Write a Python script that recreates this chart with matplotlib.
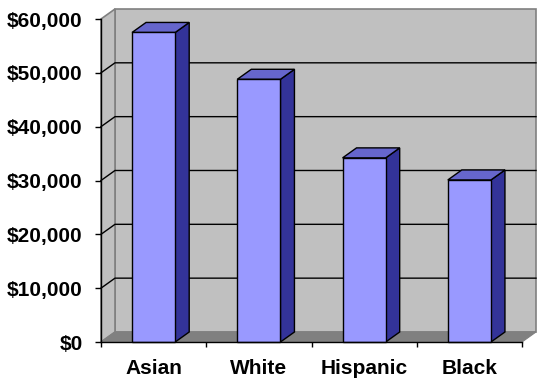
import matplotlib
matplotlib.use('Agg')
import matplotlib.pyplot as plt
from matplotlib.patches import Polygon

plt.rcParams['font.family'] = ['Liberation Sans', 'DejaVu Sans']

# data
groups = ['Asian', 'White', 'Hispanic', 'Black']
income = [57500, 48800, 34200, 30100]
yticks = [0, 10000, 20000, 30000, 40000, 50000, 60000]

ymax = 60000
ncat = len(groups)
barw = 0.41
# 3d depth offset, in data units
dx = 0.133
dy = 1860

wall = '#c0c0c0'
floor = '#808080'
front = '#9999ff'
side = '#333399'
top = '#6666cc'

fig = plt.figure(figsize=(5.42, 3.81), dpi=100)
ax = fig.add_axes([101 / 542, 39 / 381, 421 / 542, 323 / 381])
ax.set_xlim(0, ncat)
ax.set_ylim(0, ymax)


def poly(pts, fc, ec, lw=1.0, z=1):
    p = Polygon(pts, closed=True, facecolor=fc, edgecolor=ec, linewidth=lw,
                zorder=z, clip_on=False, joinstyle='miter')
    ax.add_patch(p)


# back wall, side wall, floor
poly([(dx, dy), (ncat + dx, dy), (ncat + dx, ymax + dy), (dx, ymax + dy)], wall, floor, 1.2, 0.5)
poly([(0, 0), (dx, dy), (dx, ymax + dy), (0, ymax)], wall, floor, 1.2, 0.5)

# gridlines on the walls
for v in yticks[1:-1]:
    ax.plot([0, dx, ncat + dx], [v, v + dy, v + dy], color='black', lw=1.0,
            zorder=0.8, clip_on=False)

poly([(0, 0), (ncat, 0), (ncat + dx, dy), (dx, dy)], floor, floor, 0.8, 0.9)

# bars
for i, v in enumerate(income):
    l = i + 0.5 - barw / 2
    r = i + 0.5 + barw / 2
    poly([(r, 0), (r + dx, dy), (r + dx, v + dy), (r, v)], side, 'black', 1.0, 2)
    poly([(l, v), (r, v), (r + dx, v + dy), (l + dx, v + dy)], top, 'black', 1.0, 2)
    poly([(l, 0), (r, 0), (r, v), (l, v)], front, 'black', 1.0, 2)

for s in ['top', 'right']:
    ax.spines[s].set_visible(False)
for s in ['left', 'bottom']:
    ax.spines[s].set_color('black')
    ax.spines[s].set_linewidth(1.0)
    ax.spines[s].set_zorder(3)
ax.patch.set_visible(False)

ax.set_yticks(yticks)
ax.set_yticklabels(['${:,}'.format(v) for v in yticks], fontsize=15, fontweight='bold')
ax.tick_params(axis='y', direction='out', length=4.3, width=1, pad=9, colors='black')

ax.set_xticks([i + 0.5 for i in range(ncat)])
ax.set_xticklabels(groups, fontsize=15, fontweight='bold')
ax.set_xticks(range(ncat + 1), minor=True)
ax.tick_params(axis='x', which='major', length=0, pad=12)
ax.tick_params(axis='x', which='minor', direction='out', length=3.6, width=1)

fig.savefig('out.png', dpi=100)
